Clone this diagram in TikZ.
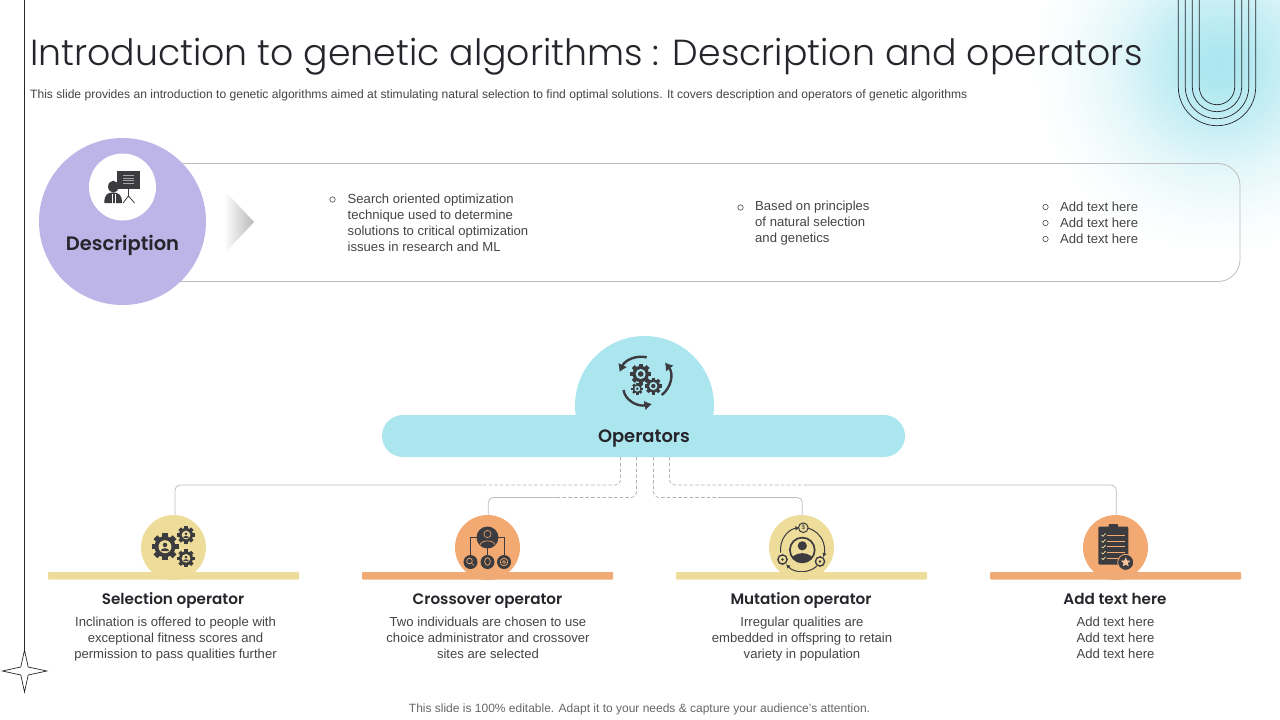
\documentclass[tikz,border=0pt]{standalone}
\usepackage{fontspec}
\usetikzlibrary{shapes.geometric,shapes.misc,arrows.meta}
\setmainfont{Liberation Sans}
\newfontfamily\titlefont{Poppins Light}
\newfontfamily\headfont{Poppins SemiBold}
\definecolor{inkc}{HTML}{25252B}
\definecolor{bodyc}{HTML}{444444}
\definecolor{iconc}{HTML}{3C3C40}
\definecolor{lilac}{HTML}{BDB4E7}
\definecolor{aqua}{HTML}{ABE6EF}
\definecolor{sand}{HTML}{EEDC9A}
\definecolor{peach}{HTML}{F3AA72}
\definecolor{barpeach}{HTML}{EFAA75}
\definecolor{linec}{HTML}{BDBDBD}
\pgfdeclareradialshading{glow}{\pgfpointorigin}{color(0bp)=(aqua); color(2.5bp)=(aqua!95!white); color(8bp)=(aqua!68!white); color(14bp)=(aqua!32!white); color(20bp)=(aqua!10!white); color(25bp)=(white); color(50bp)=(white)}
\tikzset{
  x=1pt,y=-1pt,
  disc/.style={circle,inner sep=0pt,minimum size=#1},
  head/.style={font=\headfont\fontsize{#1}{#1}\selectfont,text=inkc,inner sep=0pt,anchor=base},
  body/.style={font=\fontsize{13.1}{16}\selectfont,text=bodyc,inner sep=0pt,align=#1},
  solidl/.style={draw=linec,line width=.8pt,rounded corners=5pt},
  dashl/.style={draw=black!30,line width=.7pt,rounded corners=5pt,dash pattern=on 3.5pt off 2.2pt},
  bulletc/.style={draw=bodyc,line width=.6pt},
  uline/.style={draw=inkc,line width=.7pt},
  arrowi/.style={draw=iconc,line width=2.4pt,-{Latex[length=7.5pt,width=10pt]}},
  thinarrow/.style={draw=iconc,line width=1pt,-{Latex[length=4pt,width=4.5pt]}},
}
\newcommand{\mygear}[6][iconc]{%
  \begin{scope}[shift={(#2,#3)}]
    \fill[#1] (0,0) circle ({#4*0.78});
    \foreach \i in {1,...,#5}{\fill[#1,rotate=\i*360/#5] ({-#4*0.2},{-#4}) rectangle ({#4*0.2},0);}
    \fill[#6] (0,0) circle ({#4*0.48});
  \end{scope}}
\newcommand{\myperson}[4][iconc]{%
  \begin{scope}[shift={(#2,#3)}]
    \fill[#1] (0,{-#4*0.32}) circle ({#4*0.42});
    \fill[#1] ({-#4*0.78},{#4*0.8}) .. controls ({-#4*0.7},{#4*0.1}) and ({#4*0.7},{#4*0.1}) .. ({#4*0.78},{#4*0.8}) -- cycle;
  \end{scope}}
\begin{document}
\begin{tikzpicture}
\useasboundingbox (0,0) rectangle (1280,720);
% glow
\begin{scope}
  \clip (0,0) rectangle (1280,720);
  \shade[shading=glow] (1220,65) circle (190);
\end{scope}
% U lines
\foreach \xa/\r in {1178.3/38.7,1185.3/31.7,1192.3/24.7,1199.3/17.7}{
  \draw[uline] (\xa,-2) -- (\xa,87) arc (180:0:\r) -- ({\xa+2*\r},-2);
}
% left rule and star
\coordinate (ruletop) at (24.5,-2);
\coordinate (starn) at (24.5,650);
\draw[draw=inkc,line width=.8pt] (ruletop) -- (starn);
\draw[draw=inkc,line width=.7pt,fill=white] (starn) -- (28.2,667) -- (46.8,671) -- (28.2,675) -- (24.5,692) -- (20.8,675) -- (2.4,671) -- (20.8,667) -- cycle;
% title
\node[anchor=base west,inner sep=0pt,text=inkc,font=\titlefont\fontsize{36.25}{40}\selectfont] (title) at (30,65.5) {Introduction to genetic algorithms : Description and operators};
\node[anchor=west,inner sep=0pt,text=bodyc,font=\fontsize{12.08}{14}\selectfont] (subtitle) at (30,95) {This slide provides an introduction to genetic algorithms aimed at stimulating natural selection to find optimal solutions. It covers description and operators of genetic algorithms};
% description panel
\draw[draw=linec,line width=.8pt,rounded corners=22pt] (150,163.5) -- (1240,163.5) -- (1240,281.5) -- (150,281.5);
\shade[left color=white,right color=black!28] (224,190) -- (254,222) -- (224,254) -- cycle;
\node[disc=167pt,fill=lilac] (desc) at (122.5,221.5) {};
\node[disc=67pt,fill=white] (descicon) at (122.5,187) {};
\fill[iconc] (117,171) rectangle (140,188.5);
\foreach \y in {175.5,178,180.5,183}{\draw[draw=black!35,line width=.7pt] (123,\y) -- (133.5,\y);}
\draw[draw=iconc,line width=.8pt] (128.5,188) -- (128.5,197) (128.5,196) -- (123,203) (128.5,196) -- (134.5,203);
\fill[iconc] (113.3,186.7) ellipse (5.2 and 6);
\fill[iconc] (104.3,203) .. controls (104.3,194) and (108,192.5) .. (113,192.5) .. controls (118,192.5) and (122,194) .. (122,203) -- cycle;
\draw[draw=white,line width=.7pt] (112,194) -- (112,203) (115,194) -- (115,203);
\node[head=19.5] (desclabel) at (122.5,250.5) {Description};
\draw[bulletc] (332.5,199.5) circle (2.7);
\node[body=left,anchor=west] (d1) at (347.5,222.5) {Search oriented optimization\\technique used to determine\\solutions to critical optimization\\issues in research and ML};
\draw[bulletc] (740.5,207.5) circle (2.7);
\node[body=left,anchor=west] (d2) at (755,223.5) {Based on principles\\of natural selection\\and genetics};
\foreach \y in {207,223,239}{\draw[bulletc] (1045.5,\y) circle (2.7);}
\node[body=left,anchor=west] (d3) at (1060,222.5) {Add text here\\Add text here\\Add text here};
% operators
\begin{scope}
  \clip (560,330) rectangle (730,420);
  \node[disc=139pt,fill=aqua] (opdome) at (644.5,405.5) {};
\end{scope}
\node[rounded rectangle,fill=aqua,minimum width=523pt,minimum height=42pt,inner sep=0pt] (opbar) at (643.5,436) {};
\node[head=17.9] (oplabel) at (644,442.5) {Operators};
\mygear{640.7}{374}{10.5}{8}{aqua}
\mygear{653.3}{386}{8.5}{8}{aqua}
\mygear{637.3}{388.7}{6}{8}{aqua}
\fill[iconc] (640.7,374) circle (2.8);
\fill[iconc] (653.3,386) circle (2.2);
\fill[iconc] (637.3,388.7) circle (1.4);
\draw[arrowi] (646.7,357.3) .. controls (636,355) and (625,360) .. (619.5,372);
\draw[arrowi] (661.7,395) .. controls (671,388) and (674,374) .. (665,362.5);
\draw[arrowi] (623.5,390) .. controls (625,400) and (637,407) .. (652,404);
% operator circles
\node[disc=65pt,fill=sand] (c1) at (173.5,547.5) {};
\node[disc=65pt,fill=peach] (c2) at (487.5,547.5) {};
\node[disc=65pt,fill=sand] (c3) at (801.5,547.5) {};
\node[disc=65pt,fill=peach] (c4) at (1115.5,547.5) {};
% connectors
\coordinate (j1) at (482,485);
\coordinate (j2) at (557,497.5);
\coordinate (j3) at (720,497.5);
\coordinate (j4) at (807,485);
\draw[dashl] ([xshift=-23pt]opbar.south) |- (j1);
\draw[solidl] (j1) -| ([xshift=1.5pt]c1.north);
\draw[dashl] ([xshift=-7pt]opbar.south) |- (j2);
\draw[solidl] (j2) -| ([xshift=.8pt]c2.north);
\draw[dashl] ([xshift=10pt]opbar.south) |- (j3);
\draw[solidl] (j3) -| ([xshift=.8pt]c3.north);
\draw[dashl] ([xshift=26pt]opbar.south) |- (j4);
\draw[solidl] (j4) -| ([xshift=.8pt]c4.north);
% icon 1
\mygear{165}{546.7}{13.5}{8}{sand}
\mygear{186}{535}{9}{8}{sand}
\mygear{186}{558.3}{9}{8}{sand}
\myperson{165}{546.7}{5.4}
\myperson{186}{535}{3.6}
\myperson{186}{558.3}{3.6}
% icon 2
\draw[draw=iconc,line width=.9pt] (470,555) -- (470,537) -- (504,537) -- (504,555) (487.5,537) -- (487.5,555);
\fill[iconc] (487.5,537.5) circle (11);
\draw[draw=peach,line width=.6pt] (487.5,534) circle (3.6);
\draw[draw=peach,line width=.6pt] (480,545) .. controls (481,539.5) and (494,539.5) .. (495,545);
\foreach \xa in {470.5,487.5,504}{\fill[iconc] (\xa,562) circle (7);}
\draw[draw=peach,line width=.7pt] (469.5,561) circle (2.8) (471.5,563) -- (474,565.5);
\draw[draw=peach,line width=.7pt] (487.5,561.5) ellipse (2.8 and 3.8);
\draw[draw=peach,line width=.7pt] (504,562) circle (3.8);
\draw[draw=peach,line width=.7pt] (504,562) circle (1.5);
% icon 3
\draw[thinarrow] ([shift={(802.5,549.5)}]-78:22) arc (-78:20:22);
\draw[thinarrow] ([shift={(802.5,549.5)}]50:22) arc (50:138:22);
\draw[thinarrow] ([shift={(802.5,549.5)}]172:22) arc (172:262:22);
\draw[draw=iconc,fill=sand,line width=1pt] (803.3,527.7) circle (4.8);
\node[inner sep=0pt,text=iconc,font=\fontsize{6.5}{7}\selectfont] (dollar) at (803.3,527.7) {\$};
\draw[draw=iconc,fill=sand,line width=1.4pt] (782.5,559.5) circle (4.6);
\draw[draw=iconc,fill=sand,line width=1.4pt] (820,561.5) circle (4.6);
\fill[iconc] (782.5,559.5) circle (1.4);
\fill[iconc] (820,561.5) circle (1.4);
\draw[draw=iconc,line width=1.7pt] (802.3,550) circle (12.4);
\fill[iconc] (802.3,545.8) circle (4.6);
\begin{scope}
  \clip (802.3,550) circle (12.4);
  \fill[iconc] (789,564) .. controls (791,549.5) and (813.5,549.5) .. (815.5,564) -- cycle;
\end{scope}
% icon 4
\fill[iconc,rounded corners=1pt] (1098.3,526.7) rectangle (1128.3,564.5);
\fill[iconc,rounded corners=1pt] (1108.5,524) rectangle (1118,530);
\foreach \y in {535,541,546.7,552.7,558.3}{
  \draw[draw=peach,line width=1pt] (1107,\y) -- (1125,\y);
}
\foreach \y in {535,541,546.7,552.7,558.3}{
  \draw[draw=sand,line width=.8pt] (1101.5,\y) -- (1103,{\y+1.2}) -- (1105.5,{\y-1.5});
}
\draw[draw=peach,fill=iconc,line width=.8pt] (1125.7,562.3) circle (8);
\node[star,star points=5,star point ratio=2.2,fill=peach!70!white,inner sep=0pt,minimum size=10pt] (badge) at (1125.7,562.3) {};
% bars
\foreach \xa/\col in {48/sand,362/barpeach,676/sand,990/barpeach}{
  \fill[\col,rounded corners=1pt] (\xa,572) rectangle ({\xa+251},579.5);
}
% labels
\node[head=15.2] (h1) at (173,604.5) {Selection operator};
\node[head=15.2] (h2) at (487.5,604.5) {Crossover operator};
\node[head=15.2] (h3) at (801,604.5) {Mutation operator};
\node[head=15.2] (h4) at (1115,604.5) {Add text here};
\node[body=center] (t1) at (175.5,639.5) {Inclination is offered to people with\\exceptional fitness scores and\\permission to pass qualities further};
\node[body=center] (t2) at (488,638) {Two individuals are chosen to use\\choice administrator and crossover\\sites are selected};
\node[body=center] (t3) at (802,639.5) {Irregular qualities are\\embedded in offspring to retain\\variety in population};
\node[body=center] (t4) at (1115.5,638) {Add text here\\Add text here\\Add text here};
\node[inner sep=0pt,text=black!60,font=\fontsize{12}{14}\selectfont] (foot) at (639.5,709.5) {This slide is 100\% editable. Adapt it to your needs \& capture your audience’s attention.};
\end{tikzpicture}
\end{document}
